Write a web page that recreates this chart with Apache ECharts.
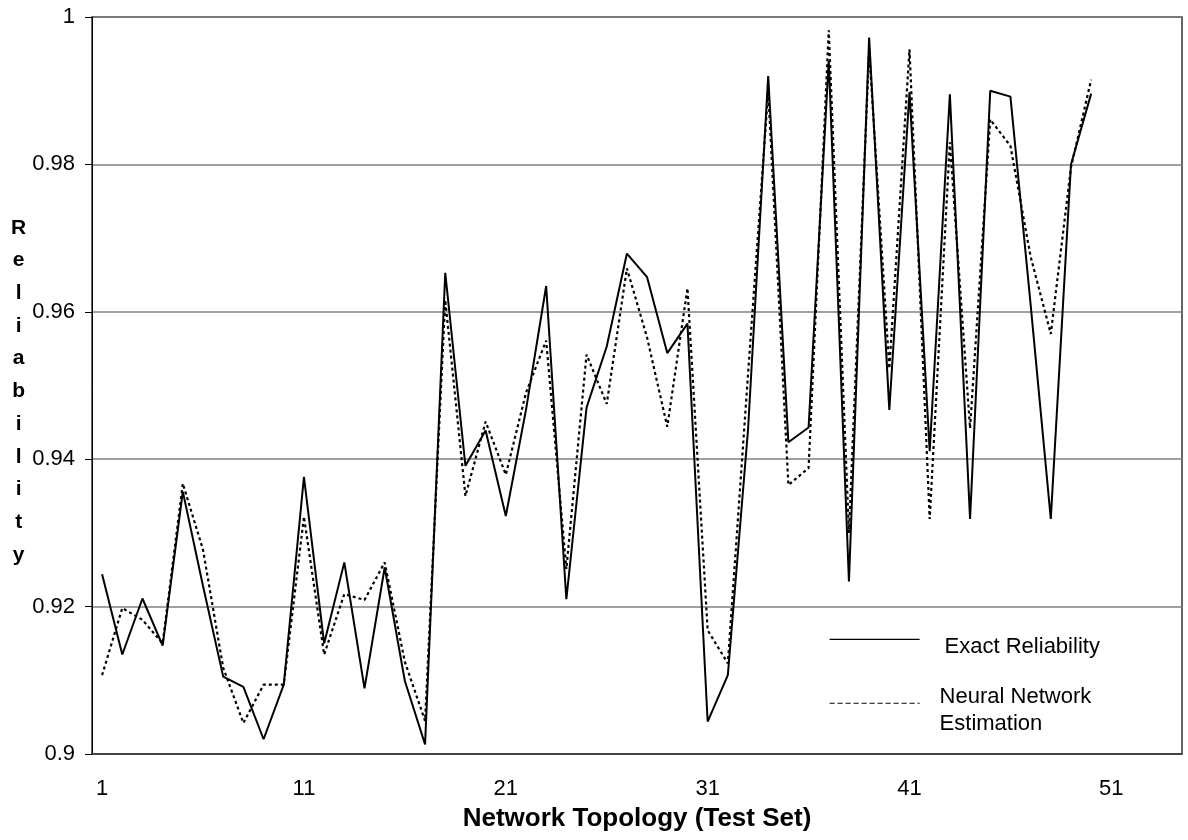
<!DOCTYPE html>
<html>
<head>
<meta charset="utf-8">
<title>Reliability</title>
<script src="https://cdn.jsdelivr.net/npm/echarts@6/dist/echarts.min.js"></script>
<style>
  html, body { margin: 0; padding: 0; background: #fff; }
  #chart { width: 1188px; height: 840px; }
</style>
</head>
<body>
<div id="chart"></div>
<script>
  // test set index (axis runs a bit past the 50 points)
  const categories = [
    '1', '2', '3', '4', '5', '6', '7', '8', '9', '10',
    '11', '12', '13', '14', '15', '16', '17', '18', '19', '20',
    '21', '22', '23', '24', '25', '26', '27', '28', '29', '30',
    '31', '32', '33', '34', '35', '36', '37', '38', '39', '40',
    '41', '42', '43', '44', '45', '46', '47', '48', '49', '50',
    '51', '52', '53', '54'
  ]

  const exactReliability = [
    0.9244, 0.9135, 0.9211, 0.9147, 0.9356, 0.9228, 0.9105, 0.9091, 0.9020, 0.9094,
    0.9376, 0.9150, 0.9260, 0.9089, 0.9253, 0.9099, 0.9013, 0.9653, 0.9391, 0.9439,
    0.9323, 0.9467, 0.9635, 0.9210, 0.9470, 0.9553, 0.9679, 0.9647, 0.9544, 0.9584,
    0.9044, 0.9107, 0.9440, 0.9920, 0.9423, 0.9443, 0.9941, 0.9234, 0.9972, 0.9467,
    0.9898, 0.9411, 0.9895, 0.9319, 0.9900, 0.9892, 0.9610, 0.9319, 0.9800, 0.9896
  ]

  const nnEstimation = [
    0.9107, 0.9198, 0.9182, 0.9150, 0.9367, 0.9277, 0.9117, 0.9042, 0.9094, 0.9094,
    0.9322, 0.9135, 0.9217, 0.9209, 0.9260, 0.9125, 0.9045, 0.9616, 0.9350, 0.9451,
    0.9379, 0.9490, 0.9561, 0.9251, 0.9542, 0.9475, 0.9659, 0.9565, 0.9444, 0.9632,
    0.9168, 0.9123, 0.9515, 0.9900, 0.9365, 0.9388, 0.9982, 0.9300, 0.9955, 0.9523,
    0.9956, 0.9319, 0.9830, 0.9442, 0.9861, 0.9825, 0.9675, 0.9570, 0.9796, 0.9915
  ]

  const FONT = 'Arial, "Liberation Sans", sans-serif'

  const chart = echarts.init(document.getElementById('chart'))

  chart.setOption({
    animation: false,
    backgroundColor: '#fff',
    textStyle: { fontFamily: FONT, color: '#000' },
    grid: {
      left: 92,
      right: 6,
      top: 17,
      bottom: 86,
      show: true,
      borderColor: '#333',
      borderWidth: 1.5
    },
    legend: {
      orient: 'vertical',
      left: 824,
      top: 616,
      itemWidth: 90,
      itemHeight: 14,
      itemGap: 14,
      selectedMode: false,
      itemStyle: { opacity: 0 },
      textStyle: {
        fontSize: 22, color: '#000', fontFamily: FONT,
        rich: {
          // empty spacer line pushes the label a bit below its line sample
          s: { fontSize: 10, lineHeight: 14.7 },
          t: { fontSize: 22, lineHeight: 26.6, color: '#000', fontFamily: FONT }
        }
      },
      formatter(name) {
        if (name === 'Neural Network Estimation') {
          return '{s| }\n{t|Neural Network}\n{t|Estimation}'
        }
        return '{s| }\n{t|' + name + '}'
      },
      data: [
        {
          name: 'Exact Reliability',
          itemStyle: { opacity: 0 },
          lineStyle: { width: 1.2, color: '#000', type: 'solid' },
          textStyle: { padding: [0, 0, 0, 20] }
        },
        {
          name: 'Neural Network Estimation',
          itemStyle: { opacity: 0 },
          lineStyle: { width: 1.2, color: '#000', type: [5, 3] },
          textStyle: { padding: [0, 0, 0, 15] }
        }
      ]
    },
    xAxis: {
      type: 'category',
      data: categories,
      boundaryGap: true,
      name: 'Network Topology (Test Set)',
      nameLocation: 'middle',
      nameGap: 65,
      nameTextStyle: { fontSize: 26, fontWeight: 'bold', color: '#000', verticalAlign: 'middle', fontFamily: FONT },
      axisLine: { lineStyle: { color: '#333', width: 1.5 } },
      axisTick: { interval: 9, length: 7, lineStyle: { color: '#000' } },
      axisLabel: { interval: 9, margin: 24, fontSize: 22, color: '#000', fontFamily: FONT },
      splitLine: { show: false }
    },
    yAxis: {
      type: 'value',
      min: 0.9,
      max: 1,
      interval: 0.02,
      name: 'R\ne\nl\ni\na\nb\ni\nl\ni\nt\ny',
      nameLocation: 'middle',
      nameRotate: 0,
      nameGap: 73,
      nameTextStyle: {
        fontSize: 21, fontWeight: 'bold', color: '#000', align: 'center',
        verticalAlign: 'top', lineHeight: 32.7, padding: [-174, 0, 0, 0], fontFamily: FONT
      },
      axisLine: { show: true, lineStyle: { color: '#000', width: 1 } },
      axisTick: { show: true, length: 7, lineStyle: { color: '#000' } },
      axisLabel: { margin: 17, fontSize: 22, color: '#000', fontFamily: FONT },
      splitLine: { lineStyle: { color: '#808080', width: 1.5 } }
    },
    series: [
      {
        name: 'Exact Reliability',
        type: 'line',
        symbol: 'none',
        data: exactReliability,
        lineStyle: { color: '#000', width: 2 },
        itemStyle: { color: '#000' }
      },
      {
        name: 'Neural Network Estimation',
        type: 'line',
        symbol: 'none',
        data: nnEstimation,
        lineStyle: { color: '#000', width: 2.2, type: [3, 3] },
        itemStyle: { color: '#000' }
      }
    ]
  })
</script>
</body>
</html>
